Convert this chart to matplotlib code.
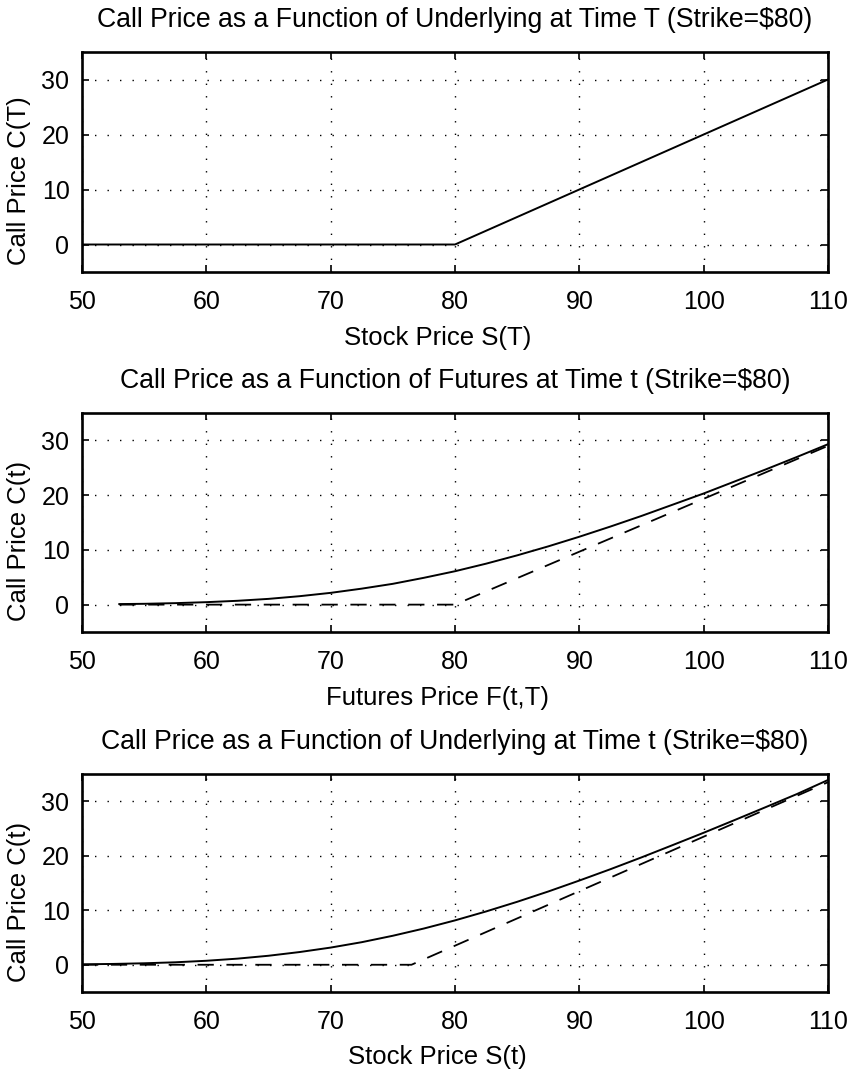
import matplotlib
matplotlib.use("Agg")
import matplotlib.pyplot as plt

plt.rcParams['font.family'] = ['Liberation Sans', 'DejaVu Sans']

# ---- data ----
top_S = [50, 80, 110]
top_call = [0, 0, 30]

mid_F = [53, 55, 57.5, 60, 62.5, 65, 67.5, 70, 72.5, 75, 77.5, 80, 82.5, 85,
         87.5, 90, 92.5, 95, 97.5, 100, 102.5, 105, 107.5, 110]
mid_call = [0.1, 0.15, 0.27, 0.45, 0.70, 1.05, 1.54, 2.15, 2.92, 3.8, 4.9, 6.1,
            7.48, 9.0, 10.64, 12.4, 14.26, 16.2, 18.25, 20.3, 22.5, 24.7, 26.97, 29.3]
mid_lb_F = [53, 80, 110]
mid_lb = [0, 0, 29.0]

bot_S = [50, 52.5, 55, 57.5, 60, 62.5, 65, 67.5, 70, 72.5, 75, 77.5, 80, 82.5,
         85, 87.5, 90, 92.5, 95, 97.5, 100, 102.5, 105, 107.5, 110]
bot_call = [0.08, 0.15, 0.27, 0.45, 0.73, 1.12, 1.65, 2.33, 3.15, 4.14, 5.32, 6.65,
            8.14, 9.78, 11.55, 13.44, 15.45, 17.53, 19.7, 21.95, 24.22, 26.56,
            28.93, 31.32, 33.9]
bot_lb_S = [50, 76.5, 110]
bot_lb = [0, 0, 33.5]

xticks = [50, 60, 70, 80, 90, 100, 110]
yticks = [0, 10, 20, 30]

titles = ["Call Price as a Function of Underlying at Time T (Strike=$80)",
          "Call Price as a Function of Futures at Time t (Strike=$80)",
          "Call Price as a Function of Underlying at Time t (Strike=$80)"]
xlabels = ["Stock Price S(T)", "Futures Price F(t,T)", "Stock Price S(t)"]
ylabels = ["Call Price C(T)", "Call Price C(t)", "Call Price C(t)"]

W, H = 852, 1072
fig = plt.figure(figsize=(W / 100, H / 100), dpi=100)

# axes boxes in pixels: (left, top, right, bottom)
boxes = [(82, 52, 828, 272), (82, 413, 828, 632), (82, 774, 828, 992)]
axes = []
for (l, t, r, b) in boxes:
    ax = fig.add_axes([l / W, (H - b) / H, (r - l) / W, (b - t) / H])
    axes.append(ax)

dash = (0, (9, 7))
axes[0].plot(top_S, top_call, color='black', lw=1.4)
axes[1].plot(mid_F, mid_call, color='black', lw=1.4)
axes[1].plot(mid_lb_F, mid_lb, color='black', lw=1.3, linestyle=dash)
axes[2].plot(bot_S, bot_call, color='black', lw=1.4)
axes[2].plot(bot_lb_S, bot_lb, color='black', lw=1.3, linestyle=dash)

for i, ax in enumerate(axes):
    ax.set_xlim(50, 110)
    ax.set_ylim(-5, 35)
    ax.set_xticks(xticks)
    ax.set_yticks(yticks)
    ax.grid(True, color='black', linestyle=(0, (1, 8)), lw=1.0)
    ax.tick_params(direction='in', length=5, width=1.2, top=True, right=True,
                   labelsize=18)
    ax.tick_params(axis='x', pad=13)
    ax.tick_params(axis='y', pad=9)
    for s in ax.spines.values():
        s.set_linewidth(1.9)
    ax.set_title(titles[i], fontsize=19.2, pad=18)
    ax.set_xlabel(xlabels[i], fontsize=18.5)
    ax.set_ylabel(ylabels[i], fontsize=18.5)
    ax.xaxis.set_label_coords(0.477, -0.245)
    ax.yaxis.set_label_coords(-0.068, 0.414)

fig.savefig("out.png", dpi=100)
